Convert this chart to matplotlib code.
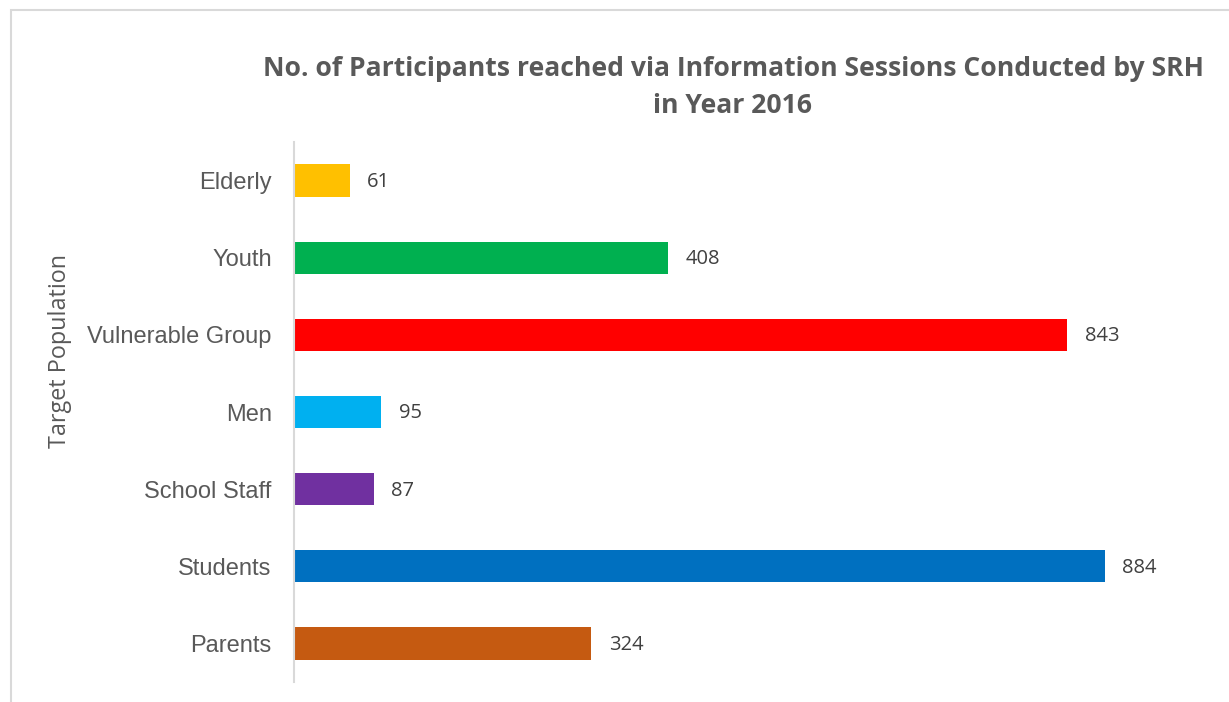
import matplotlib.pyplot as plt
from matplotlib.patches import Rectangle

groups = ['Parents', 'Students', 'School Staff', 'Men', 'Vulnerable Group', 'Youth', 'Elderly']
participants = [324, 884, 87, 95, 843, 408, 61]
bar_colors = ['#C55A11', '#0070C0', '#7030A0', '#00B0F0', '#FF0000', '#00B050', '#FFC000']

grey = '#595959'

fig = plt.figure(figsize=(12.29, 7.02), dpi=100)
ax = fig.add_axes([0.2392, 0.0285, 0.7466, 0.7692])

bars = ax.barh(groups, participants, height=0.42, color=bar_colors)
ax.set_xlim(0, 1000)
ax.set_ylim(-0.5, len(groups) - 0.5)

for b, v in zip(bars, participants):
    ax.annotate(str(v), (b.get_width(), b.get_y() + b.get_height() / 2),
                xytext=(12.5, -1), textcoords='offset points', va='center', ha='left',
                fontsize=14.5, color='#404040', family='Open Sans')

for s in ['top', 'right', 'bottom']:
    ax.spines[s].set_visible(False)
ax.spines['left'].set_color('#D9D9D9')
ax.spines['left'].set_linewidth(1.5)
ax.set_xticks([])
ax.tick_params(axis='y', length=0, pad=16, labelsize=17, labelcolor=grey)
for lbl in ax.get_yticklabels():
    lbl.set_family('Liberation Sans')

ax.set_ylabel('Target Population', fontsize=16.8, color=grey, family='Open Sans')
ax.yaxis.set_label_coords(-0.242, 0.613)

fig.text(0.5964, 0.876, 'No. of Participants reached via Information Sessions Conducted by SRH\nin Year 2016',
         ha='center', va='center', fontsize=19.1, fontweight='bold', color=grey,
         family='Open Sans', linespacing=1.55)

# chart area border
fig.patches.append(Rectangle((10.5 / 1229, -0.1), 1.2, 1.1 - 9.5 / 702,
                             transform=fig.transFigure, fill=False,
                             edgecolor='#D9D9D9', linewidth=1.5))

fig.savefig('out.png', dpi=100)
